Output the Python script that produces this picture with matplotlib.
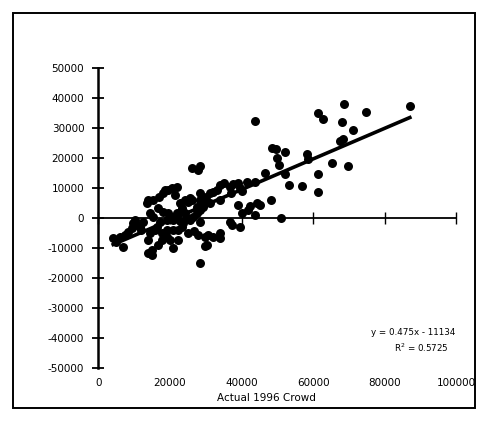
import numpy as np
import matplotlib.pyplot as plt
from matplotlib.patches import Rectangle

plt.rcParams['font.family'] = ['DejaVu Sans']
plt.rcParams['axes.unicode_minus'] = False

# actual 1996 crowd (x) against the difference (y)
actual_crowd = [86977, 68650, 74884, 61395, 62790, 67907, 43721, 71163, 68372, 67442,
                48372, 49581, 52093, 49767, 58326, 58605, 50419, 65116, 69767, 61395,
                52093, 46512, 53209, 56744, 61395, 48279, 50977, 43721, 41395, 39070,
                37674, 36744, 39535, 40000, 37200, 33953, 33023, 32100, 33953, 31163,
                30200, 28372, 28372, 26047, 28372, 27907, 44186, 45116, 42326, 39070,
                40000, 41860, 43721, 36744, 37209, 39535, 28372, 27907, 29767, 30700,
                32100, 33953, 33953, 30233, 29767, 28372, 25116, 23256, 22300, 20930,
                22326, 20000, 19100, 14884, 14884, 13950, 16744, 17674, 13953, 14400,
                15800, 6977, 4186, 5100, 6047, 7400, 8372, 9302, 9770, 10233,
                11628, 12560, 13488, 13953, 15350, 17023, 18140, 19535, 20465, 21860,
                16744, 18140, 19535, 20465, 20930, 19070, 17210, 15350, 14420, 21860,
                23256, 22790, 24186, 25580, 25120, 26050, 24190, 24650, 25580, 26510,
                27440, 27440, 28370, 29300, 29770, 31160, 23720, 20930, 19070, 17670,
                16280, 12000, 10700, 22800, 26800, 35100, 18600, 21400]
difference = [37444, 38111, 35555, 35000, 33000, 32222, 32444, 29444, 26333, 25778,
              23555, 23111, 22222, 20000, 21444, 19666, 17889, 18333, 17444, 14777,
              14777, 15000, 11000, 10778, 8889, 6111, 0, 12222, 12222, 11889,
              11333, 10556, 10000, 9222, 8300, 11111, 9444, 8900, 6111, 8333,
              7200, 8333, 6111, 16889, 17555, 16111, 5000, 4444, 4222, 4444,
              1667, 2778, 1111, -1111, -2222, -2778, -1111, -5556, -6111, -5556,
              -6111, -6444, -5000, -8889, -9200, -15000, -5000, -2778, -3900, -10000,
              -7222, -7222, -6100, -10556, -12222, -11700, -8889, -7222, -7222, -5000,
              -3900, -9444, -6667, -7800, -6333, -5500, -4444, -3333, -1700, -556,
              -2778, -1100, 5000, 6111, 6111, 7222, 8333, 9444, 10000, 10556,
              3333, 2222, 1667, 556, -556, -556, -1111, 556, 1667, 1667,
              3333, 5000, 6111, 6667, 5556, 6111, 1667, 0, -556, 556,
              1667, 3889, 2778, 3889, 5000, 5000, -1667, -3889, -3889, -5000,
              -2778, -4000, -2200, -900, -4300, 11700, 9400, 7800]

# trendline equation as printed on the chart
slope = 0.475
intercept = -11134
r_squared = 0.5725

fig = plt.figure(figsize=(4.79, 4.23), dpi=100)
ax = fig.add_axes([0.205, 0.1293, 0.748, 0.7092])

ax.scatter(actual_crowd, difference, s=42, color='black', zorder=3, linewidths=0)

# least squares line through the points
m, c = np.polyfit(actual_crowd, difference, 1)
xs = np.array([min(actual_crowd), max(actual_crowd)])
ax.plot(xs, m * xs + c, color='black', lw=2.6, zorder=4)

ax.set_xlim(0, 100000)
ax.set_ylim(-50000, 50000)
ax.set_yticks(range(-50000, 50001, 10000))
ax.set_xticks(range(0, 100001, 20000))

ax.spines['top'].set_visible(False)
ax.spines['right'].set_visible(False)
ax.spines['bottom'].set_position(('data', 0))
ax.spines['left'].set_linewidth(1.8)
ax.spines['bottom'].set_linewidth(1.3)
ax.tick_params(axis='y', direction='inout', length=8, width=1.3, labelsize=7.5, pad=6)
ax.tick_params(axis='x', direction='inout', length=8, width=1.0, labelbottom=False)

# x tick labels sit under the plot, not on the zero line
sec = ax.secondary_xaxis('bottom')
sec.set_xticks(range(0, 100001, 20000))
sec.spines['bottom'].set_visible(False)
sec.tick_params(length=0, labelsize=7.5, pad=7)

fig.text(0.557, 0.059, 'Actual 1996 Crowd', ha='center', va='center', fontsize=7.5)
ax.text(0.996, 0.118, 'y = %.3fx - %d' % (slope, -intercept), transform=ax.transAxes,
        ha='right', va='center', fontsize=6.3)
ax.text(0.977, 0.068, 'R$^2$ = %.4f' % r_squared, transform=ax.transAxes,
        ha='right', va='center', fontsize=6.3)

# frame around the whole chart
fig.patches.append(Rectangle((0.027, 0.035), 0.965, 0.935, transform=fig.transFigure,
                             fill=False, edgecolor='black', lw=1.4))

plt.savefig('out.png', dpi=100)
